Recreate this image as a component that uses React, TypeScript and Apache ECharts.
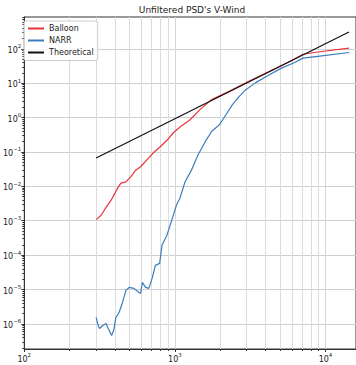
import React, { useEffect, useRef } from "react";
import * as echarts from "echarts";

const FONT = "DejaVu Sans";

const freqBalloon = [300, 324, 350, 377, 417, 438, 473, 509, 549, 592, 668, 720, 800, 889, 973, 1081, 1257, 1461, 1743, 2291, 3097, 4188, 5662, 7097, 8890, 14320];
const psdBalloon = [1.08e-3, 1.45e-3, 2.48e-3, 3.96e-3, 8.87e-3, 1.24e-2, 1.35e-2, 1.89e-2, 2.96e-2, 3.71e-2, 6.64e-2, 9.48e-2, 0.142, 0.222, 0.356, 0.532, 0.851, 1.67, 3.26, 5.77, 11.3, 21.3, 40.4, 69.2, 80.7, 105];

const freqNarr = [300, 308, 316, 332, 349, 361, 380, 392, 406, 426, 449, 473, 497, 535, 577, 592, 608, 639, 671, 706, 742, 792, 821, 885, 954, 1029, 1081, 1165, 1288, 1423, 1497, 1612, 1765, 1969, 2177, 2404, 2659, 2942, 3422, 4178, 5105, 6249, 7080, 8890, 14320];
const psdNarr = [1.54e-6, 9.6e-7, 7.35e-7, 8.97e-7, 1.03e-6, 7.35e-7, 4.59e-7, 6.43e-7, 1.54e-6, 2.15e-6, 4.21e-6, 9.42e-6, 1.15e-5, 1.08e-5, 8.22e-6, 7.69e-6, 1.61e-5, 1.15e-5, 1.08e-5, 2.11e-5, 5.05e-5, 5.77e-5, 1.93e-4, 3.78e-4, 1.04e-3, 3.03e-3, 4.53e-3, 1.32e-2, 2.96e-2, 8.13e-2, 0.122, 0.222, 0.406, 0.608, 1.19, 2.33, 3.99, 6.38, 10.2, 16.9, 27.4, 39.9, 53.5, 60.4, 78.0];

const freqTheory = [300, 14320];
const psdTheory = [0.0664, 307];

const xMajorExp = [2, 3, 4];
const yMajorExp = [-6, -5, -4, -3, -2, -1, 0, 1, 2];

const X_MIN = 2, X_MAX = 4.2026;
const Y_MIN = -6.729, Y_MAX = 2.924;

function minorLogs(lo: number, hi: number): number[] {
  const out: number[] = [];
  for (let n = Math.floor(lo) - 1; n <= Math.ceil(hi); n++) {
    for (let k = 2; k <= 9; k++) {
      const v = n + Math.log10(k);
      if (v > lo && v < hi) out.push(v);
    }
  }
  return out;
}

const toPairs = (f: number[], p: number[]) => f.map((v, i) => [Math.log10(v), Math.log10(p[i])]);

const supLabel = (v: number) => {
  const e = Math.round(v);
  const s = e < 0 ? "\u2212" + Math.abs(e) : String(e);
  return `{a|10}{b|${s}}`;
};

const richLabel = {
  a: { fontSize: 8, fontFamily: FONT, color: "#222", lineHeight: 11, verticalAlign: "bottom" },
  b: { fontSize: 5.5, fontFamily: FONT, color: "#222", lineHeight: 11, verticalAlign: "top" },
};

export default function App() {
  const ref = useRef<HTMLDivElement>(null);
  useEffect(() => {
    if (!ref.current) return;
    const chart = echarts.init(ref.current, null, { renderer: "svg" });
    const grid = { left: 22, top: 17, width: 337, height: 332 };
    const option: any = {
      animation: false,
      backgroundColor: "#fff",
      graphic: [
        {
          type: "text",
          x: 192,
          y: 10,
          style: {
            text: "Unfiltered PSD's V-Wind",
            align: "center",
            verticalAlign: "middle",
            font: `9px "${FONT}"`,
            fill: "#222",
          },
        },
      ],
      grid: { ...grid, show: true, borderColor: "#333", borderWidth: 1, backgroundColor: "transparent" },
      legend: {
        left: 24,
        top: 21,
        orient: "vertical",
        icon: "rect",
        itemWidth: 16,
        itemHeight: 2,
        itemGap: 2,
        padding: [2.5, 4, 3, 4],
        borderColor: "#cccccc",
        borderWidth: 1,
        borderRadius: 2,
        backgroundColor: "rgba(255,255,255,0.85)",
        textStyle: { fontSize: 8, fontFamily: FONT, color: "#222", lineHeight: 10 },
        data: ["Balloon", "NARR", "Theoretical"],
      },
      xAxis: [
        {
          type: "value",
          min: X_MIN,
          max: X_MAX,
          axisLine: { show: true, onZero: false, lineStyle: { color: "#333", width: 1 } },
          axisTick: { show: true, length: 3, customValues: xMajorExp, lineStyle: { color: "#333" } },
          axisLabel: { customValues: xMajorExp, formatter: supLabel, rich: richLabel, margin: 3 },
          splitLine: { show: true, lineStyle: { color: "#d6d6d6", width: 1 } },
        },
        {
          type: "value",
          min: X_MIN,
          max: X_MAX,
          position: "bottom",
          axisLine: { show: false, onZero: false },
          axisTick: { show: true, length: 2, customValues: minorLogs(X_MIN, X_MAX), lineStyle: { color: "#333" } },
          axisLabel: { show: false },
          splitLine: { show: true, lineStyle: { color: "#dcdcdc", width: 1 } },
        },
      ],
      yAxis: [
        {
          type: "value",
          min: Y_MIN,
          max: Y_MAX,
          axisLine: { show: true, onZero: false, lineStyle: { color: "#333", width: 1 } },
          axisTick: { show: true, length: 3, customValues: yMajorExp, lineStyle: { color: "#333" } },
          axisLabel: { customValues: yMajorExp, formatter: supLabel, rich: richLabel, margin: 3 },
          splitLine: { show: true, lineStyle: { color: "#cfcfcf", width: 1 } },
        },
        {
          type: "value",
          min: Y_MIN,
          max: Y_MAX,
          position: "left",
          axisLine: { show: false, onZero: false },
          axisTick: { show: true, length: 2, customValues: minorLogs(Y_MIN, Y_MAX), lineStyle: { color: "#333" } },
          axisLabel: { show: false },
          splitLine: { show: false },
        },
      ],
      series: [
        {
          name: "Balloon",
          type: "line",
          showSymbol: false,
          symbol: "none",
          color: "#e8353b",
          lineStyle: { width: 1.2, color: "#e8353b" },
          data: toPairs(freqBalloon, psdBalloon),
        },
        {
          name: "NARR",
          type: "line",
          showSymbol: false,
          symbol: "none",
          color: "#3b7cbf",
          lineStyle: { width: 1.2, color: "#3b7cbf" },
          data: toPairs(freqNarr, psdNarr),
        },
        {
          name: "Theoretical",
          type: "line",
          showSymbol: false,
          symbol: "none",
          color: "#111111",
          lineStyle: { width: 1.2, color: "#111111" },
          data: toPairs(freqTheory, psdTheory),
        },
      ],
    };
    chart.setOption(option);
    return () => chart.dispose();
  }, []);
  return <div ref={ref} style={{ width: 356, height: 365, position: "absolute", left: 0, top: 0 }} />;
}
